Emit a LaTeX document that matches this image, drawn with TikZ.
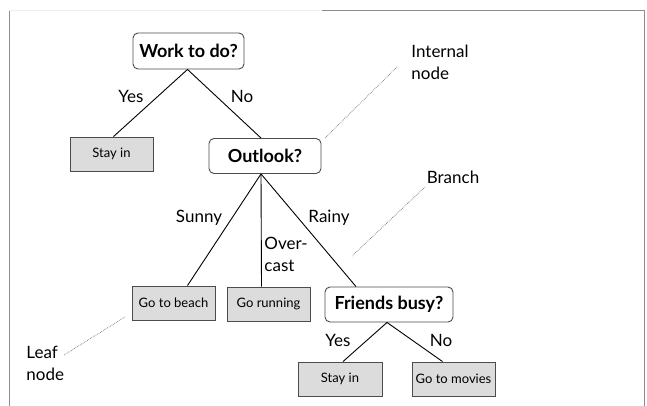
\documentclass[tikz,border=0pt]{standalone}
\usepackage{fontspec}
\setmainfont{Lato}
\usetikzlibrary{positioning}

\definecolor{leafgray}{HTML}{DCDCDC}
\definecolor{framegray}{HTML}{8C8C8C}

\tikzset{
    question/.style={draw=black!70, rounded corners=5pt, fill=white, inner sep=0pt,
        font=\fontsize{18}{20}\selectfont\bfseries},
    leaf/.style={draw=black!70, fill=leafgray, inner sep=0pt,
        minimum width=83pt, minimum height=34pt, font=\fontsize{13}{15}\selectfont},
    edgelabel/.style={font=\fontsize{17}{22}\selectfont, inner sep=0pt, align=left},
    pointer/.style={densely dotted, black!55, line width=0.7pt}
}

\begin{document}
\begin{tikzpicture}[x=1pt, y=-1pt, line width=0.9pt]
    \useasboundingbox (0,0) rectangle (647,406);
    % frame
    \draw[framegray, line width=0.8pt] (9,406) -- (9,10);
    \draw[black!6, line width=0.6pt] (9,10) -- (322,10);
    \draw[framegray, line width=0.8pt] (322,10) -- (644,10) -- (644,406);

    % nodes
    \node[question, minimum width=111pt, minimum height=36pt] (work) at (188.5,51) {Work to do?};
    \node[leaf] (stayA) at (111.5,154) {Stay in};
    \node[question, minimum width=112pt, minimum height=35pt] (outlook) at (265,156) {Outlook?};
    \node[leaf] (beach) at (173.5,303) {Go to beach};
    \node[leaf] (running) at (268.5,304) {Go running};
    \node[question, minimum width=128pt, minimum height=35pt] (friends) at (389,304.5) {Friends busy?};
    \node[leaf, minimum width=84pt] (stayB) at (340,379) {Stay in};
    \node[leaf] (movies) at (453.5,379) {Go to movies};

    % branches
    \draw ([xshift=-1pt]work.south) -- ([xshift=2pt]stayA.north);
    \draw ([xshift=-1pt]work.south) -- ([xshift=-4pt]outlook.north);
    \draw ([xshift=-4pt]outlook.south) -- ([xshift=14pt]beach.north);
    \draw ([xshift=-4pt]outlook.south) -- ([xshift=-7pt]running.north);
    \draw ([xshift=-4pt]outlook.south) -- ([xshift=-33pt]friends.north);
    \draw ([xshift=-2pt]friends.south) -- ([xshift=3pt]stayB.north);
    \draw ([xshift=-2pt]friends.south) -- ([xshift=-11pt]movies.north);

    % branch labels
    \node[edgelabel] (yesA) at (131,96) {Yes};
    \node[edgelabel] (noA) at (242,96) {No};
    \node[edgelabel] (sunny) at (199,218) {Sunny};
    \node[edgelabel, anchor=west] (overcast) at (264,254) {Over-\\cast};
    \node[edgelabel] (rainy) at (329,218) {Rainy};
    \node[edgelabel] (yesB) at (338,340) {Yes};
    \node[edgelabel] (noB) at (441,340) {No};

    % annotations
    \node[edgelabel, anchor=west] (internal) at (411,62) {Internal\\node};
    \node[edgelabel] (branch) at (453,177) {Branch};
    \node[edgelabel, anchor=west] (leafnote) at (26,363) {Leaf\\node};
    \coordinate (internalend) at (325,138);
    \coordinate (branchend) at (352,256);
    \coordinate (leafend) at (125,317);
    \draw[pointer] (397,67) -- (internalend);
    \draw[pointer] (425,187) -- (branchend);
    \draw[pointer] (64,355) -- (leafend);
\end{tikzpicture}
\end{document}
